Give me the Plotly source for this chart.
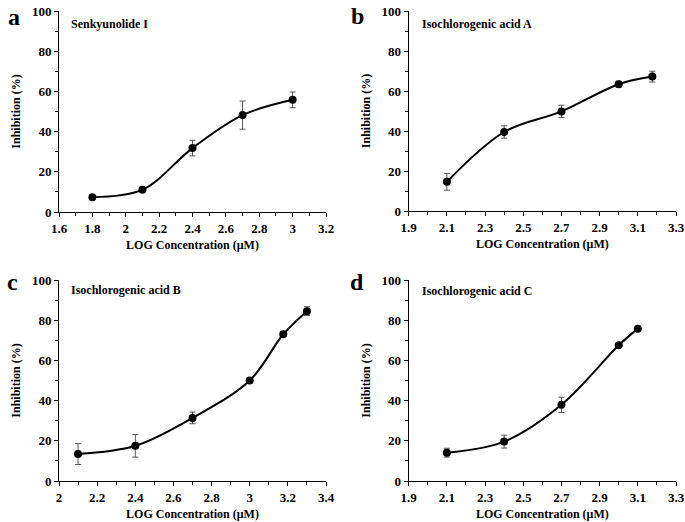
import plotly.graph_objects as go

# ---- data ----
names = ["Senkyunolide I", "Isochlorogenic acid A", "Isochlorogenic acid B", "Isochlorogenic acid C"]
letters = ["a", "b", "c", "d"]

x_a = [1.8, 2.1, 2.4, 2.7, 3.0]
y_a = [7.4, 11.1, 31.8, 48.2, 55.8]
e_a = [0.5, 0.6, 3.9, 7.0, 3.9]

x_b = [2.1, 2.4, 2.7, 3.0, 3.176]
y_b = [14.6, 39.5, 49.8, 63.4, 67.2]
e_b = [4.2, 3.1, 3.1, 1.5, 2.7]

x_c = [2.1, 2.4, 2.7, 3.0, 3.176, 3.3]
y_c = [13.4, 17.5, 31.4, 50.0, 73.0, 84.5]
e_c = [5.2, 5.6, 2.9, 0.8, 0.8, 2.2]

x_d = [2.1, 2.4, 2.7, 3.0, 3.1]
y_d = [14.1, 19.6, 37.9, 67.5, 75.8]
e_d = [2.2, 3.2, 3.8, 0.8, 0.5]

xticks_a = [1.6, 1.8, 2.0, 2.2, 2.4, 2.6, 2.8, 3.0, 3.2]
xtext_a = ["1.6", "1.8", "2", "2.2", "2.4", "2.6", "2.8", "3", "3.2"]
xticks_b = [1.9, 2.1, 2.3, 2.5, 2.7, 2.9, 3.1, 3.3]
xtext_b = ["1.9", "2.1", "2.3", "2.5", "2.7", "2.9", "3.1", "3.3"]
xticks_c = [2.0, 2.2, 2.4, 2.6, 2.8, 3.0, 3.2, 3.4]
xtext_c = ["2", "2.2", "2.4", "2.6", "2.8", "3", "3.2", "3.4"]
xticks_d = xticks_b
xtext_d = xtext_b
yticks = [0, 20, 40, 60, 80, 100]
ytext = ["0", "20", "40", "60", "80", "100"]

W, H = 685, 522
FONT = "Liberation Serif"

panels = [
    dict(x=x_a, y=y_a, e=e_a, xt=xticks_a, xl=xtext_a, px=(59, 326), py=(11, 212), letter_pos=(14, 17), name_pos=(69, 24)),
    dict(x=x_b, y=y_b, e=e_b, xt=xticks_b, xl=xtext_b, px=(408.7, 676), py=(11, 211), letter_pos=(357, 16), name_pos=(420, 24)),
    dict(x=x_c, y=y_c, e=e_c, xt=xticks_c, xl=xtext_c, px=(59, 326), py=(280, 481), letter_pos=(12, 282), name_pos=(69, 290)),
    dict(x=x_d, y=y_d, e=e_d, xt=xticks_d, xl=xtext_d, px=(408.7, 676), py=(280, 481), letter_pos=(357, 282), name_pos=(420, 291)),
]

fig = go.Figure()
annotations = []
layout = dict(
    width=W, height=H, margin=dict(l=0, r=0, t=0, b=0, autoexpand=False),
    paper_bgcolor="white", plot_bgcolor="white", showlegend=False,
    font=dict(family=FONT, color="black"),
)

for i, p in enumerate(panels):
    k = "" if i == 0 else str(i + 1)
    fig.add_trace(go.Scatter(
        x=p["x"], y=p["y"], mode="lines+markers",
        line=dict(color="black", width=2, shape="spline", smoothing=1.0),
        marker=dict(color="black", size=8),
        error_y=dict(type="data", array=p["e"], visible=True, color="#555555", thickness=1, width=3),
        xaxis="x" + k, yaxis="y" + k, cliponaxis=False,
    ))
    xd = [p["px"][0] / W, p["px"][1] / W]
    yd = [1 - p["py"][1] / H, 1 - p["py"][0] / H]
    minor_x = []
    for j in range(len(p["xt"]) - 1):
        minor_x.append(round((p["xt"][j] + p["xt"][j + 1]) / 2, 3))
    layout["xaxis" + k] = dict(
        domain=xd, anchor="y" + k, range=[p["xt"][0], p["xt"][-1]], automargin=False,
        tickmode="array", tickvals=p["xt"], ticktext=["<b>" + t + "</b>" for t in p["xl"]],
        ticks="outside", ticklen=4, tickwidth=1, tickcolor="black",
        minor=dict(tickmode="array", tickvals=minor_x, ticks="outside", ticklen=3, tickwidth=1, tickcolor="black"),
        showline=True, linecolor="black", linewidth=1, showgrid=False, zeroline=False,
        tickfont=dict(family=FONT, size=13, color="black"),
        title=dict(text="<b>LOG Concentration (μM)</b>", font=dict(family=FONT, size=12, color="black"), standoff=6),
    )
    layout["yaxis" + k] = dict(
        domain=yd, anchor="x" + k, range=[0, 100], automargin=False,
        tickmode="array", tickvals=yticks, ticktext=["<b>" + t + "</b>" for t in ytext],
        ticks="outside", ticklen=4, tickwidth=1, tickcolor="black",
        minor=dict(tickmode="array", tickvals=[10, 30, 50, 70, 90], ticks="outside", ticklen=3, tickwidth=1, tickcolor="black"),
        showline=True, linecolor="black", linewidth=1, showgrid=False, zeroline=False,
        tickfont=dict(family=FONT, size=13, color="black"),
        title=dict(text="<b>Inhibition (%)</b>", font=dict(family=FONT, size=12, color="black"), standoff=8),
    )
    annotations.append(dict(
        x=p["letter_pos"][0] / W, y=1 - p["letter_pos"][1] / H, xref="paper", yref="paper",
        text="<b>" + letters[i] + "</b>", showarrow=False, xanchor="center", yanchor="middle",
        font=dict(family=FONT, size=24, color="black"),
    ))
    annotations.append(dict(
        x=p["name_pos"][0] / W, y=1 - p["name_pos"][1] / H, xref="paper", yref="paper",
        text="<b>" + names[i] + "</b>", showarrow=False, xanchor="left", yanchor="middle",
        font=dict(family=FONT, size=12, color="black"),
    ))

layout["annotations"] = annotations
fig.update_layout(**layout)
fig.write_html("out.html", config={"displayModeBar": False},
               post_script="document.body.style.margin='0';document.body.style.overflow='hidden';")
